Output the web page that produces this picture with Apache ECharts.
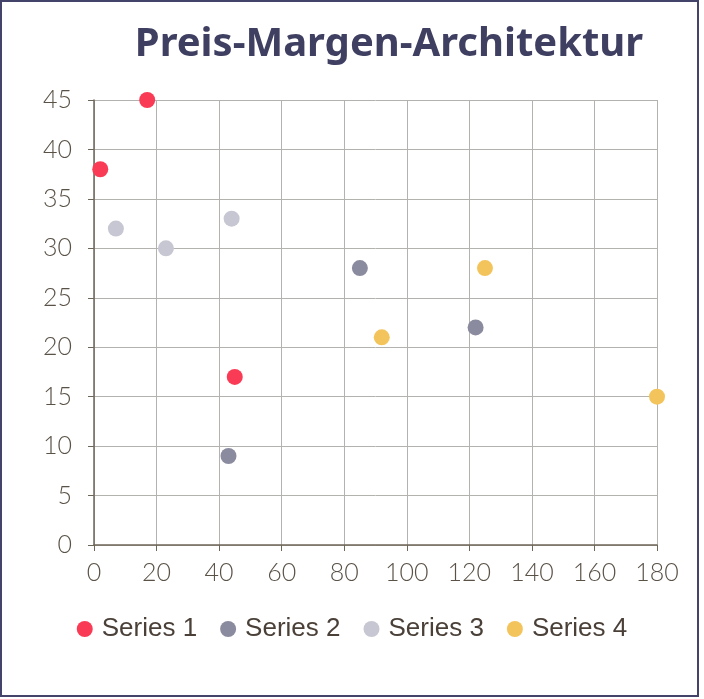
<!DOCTYPE html>
<html>
<head>
<meta charset="utf-8">
<script src="https://cdn.jsdelivr.net/npm/echarts@6/dist/echarts.min.js"></script>
<style>
  html, body { margin: 0; padding: 0; background: #fff; }
  #chart { width: 704px; height: 699px; }
</style>
</head>
<body>
<div id="chart"></div>
<script>
const seriesNames = ['Series 1', 'Series 2', 'Series 3', 'Series 4']
const colors = ['#fa3b55', '#8b8ba0', '#c7c7d3', '#f4c45c']

const series1 = [[2, 38], [17, 45], [45, 17]]
const series2 = [[43, 9], [85, 28], [122, 22]]
const series3 = [[7, 32], [23, 30], [44, 33]]
const series4 = [[92, 21], [125, 28], [180, 15]]

const allData = [series1, series2, series3, series4]

const labelFont = { fontFamily: 'Lato', fontWeight: 300, fontSize: 25, color: '#5a5247' }

const chart = echarts.init(document.getElementById('chart'))

chart.setOption({
    animation: false,
    backgroundColor: '#fff',
    color: colors,
    title: {
        text: 'Preis-Margen-Architektur',
        left: 384,
        textAlign: 'center',
        top: 20,
        textStyle: {
            fontFamily: 'Noto Sans',
            fontWeight: 'bold',
            fontSize: 40,
            color: '#3f3f62'
        }
    },
    graphic: [{
        type: 'rect',
        silent: true,
        shape: { x: 1, y: 1, width: 697, height: 695 },
        style: { fill: 'none', stroke: '#44446a', lineWidth: 2 }
    }],
    legend: {
        bottom: 52,
        left: 'center',
        icon: 'circle',
        itemWidth: 16,
        itemHeight: 16,
        itemGap: 23,
        textStyle: { fontFamily: 'Liberation Sans', fontSize: 26, color: '#4a4038', padding: [0, 0, 0, 4] },
        data: seriesNames
    },
    grid: {
        left: 94,
        right: 47,
        top: 100,
        bottom: 154,
        containLabel: false
    },
    xAxis: {
        type: 'value',
        min: 0,
        max: 180,
        interval: 20,
        axisLine: { show: true, onZero: false, lineStyle: { color: '#6e6658', width: 1.5 } },
        axisTick: { show: true, length: 6, lineStyle: { color: '#6e6658' } },
        axisLabel: Object.assign({ margin: 15 }, labelFont),
        splitLine: { show: true, lineStyle: { color: '#b3b2ae', width: 1 } }
    },
    yAxis: {
        type: 'value',
        min: 0,
        max: 45,
        interval: 5,
        axisLine: { show: true, onZero: false, lineStyle: { color: '#6e6658', width: 1.5 } },
        axisTick: { show: true, length: 6, lineStyle: { color: '#6e6658' } },
        axisLabel: Object.assign({ margin: 22 }, labelFont),
        splitLine: { show: true, lineStyle: { color: '#b3b2ae', width: 1 } }
    },
    series: allData.map((d, i) => ({
        name: seriesNames[i],
        type: 'scatter',
        data: d,
        symbolSize: 16,
        itemStyle: { color: colors[i], opacity: 1 }
    }))
})
</script>
</body>
</html>
